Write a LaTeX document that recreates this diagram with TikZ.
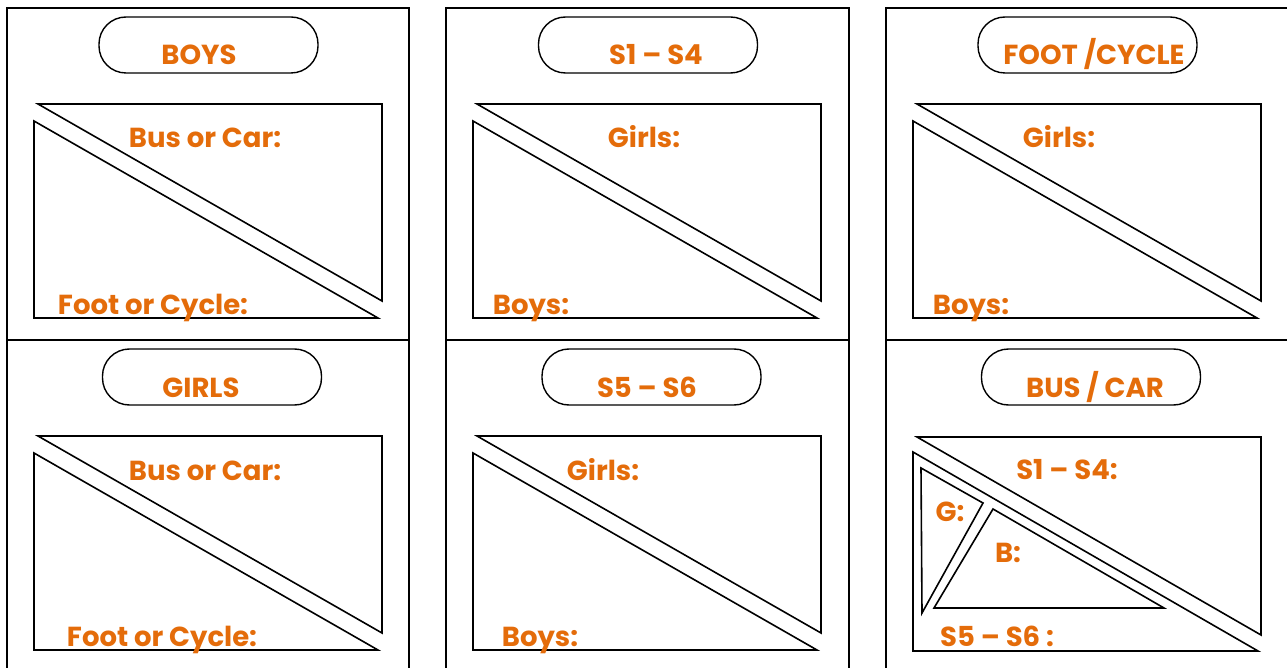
\documentclass[tikz,border=0pt]{standalone}
\usepackage{fontspec}
\setmainfont{Poppins}
\usepackage{tikz}
\usetikzlibrary{positioning}

\definecolor{tally}{HTML}{E46C0A}

\tikzset{
    panel/.style={line width=1.4pt},
    wedge/.style={line width=1.6pt, line join=miter},
    ovalbox/.style={draw, line width=1.4pt, rounded corners=27pt, minimum width=219pt, minimum height=56pt, inner sep=0pt},
    lbl/.style={text=tally, font=\fontsize{27.5}{30}\selectfont\bfseries, anchor=base, inner sep=0pt},
}

\begin{document}
\begin{tikzpicture}[x=1pt, y=-1pt]
    \useasboundingbox (0,0) rectangle (1287,668);
    \fill[white] (0,0) rectangle (1287,668);

    % outer panels
    \draw[panel] (7,668) |- (409,8) -- (409,668);
    \draw[panel] (446,668) |- (849,8) -- (849,668);
    \draw[panel] (886,668) |- (1287,8);
    \foreach \a/\b in {7/409, 446/849, 886/1287}
        \draw[panel] (\a,340) -- (\b,340);

    % the five plain cells
    \foreach \n/\ox/\oy/\ovx/\head/\hx/\ta/\tx/\ba/\bx in {
        boys/0/0/208.5/BOYS/199/Bus or Car:/205/Foot or Cycle:/153,
        girls/0/332/212/GIRLS/201/Bus or Car:/205/Foot or Cycle:/162,
        lower/439/0/648/S1 -- S4/656/Girls:/644/Boys:/531,
        upper/439/332/651.5/S5 -- S6/647/Girls:/603/Boys:/540,
        foot/879/0/1087.5/{FOOT /CYCLE}/1094/Girls:/1059/Boys:/971}
    {
        \node[ovalbox] (\n-oval) at (\ovx,\oy+45) {};
        \node[lbl] (\n-head) at (\hx,\oy+65) {\head};
        \draw[wedge] (\ox+38,\oy+104) -- (\ox+382,\oy+104) -- (\ox+382,\oy+301) -- cycle;
        \draw[wedge] (\ox+34,\oy+121) -- (\ox+34,\oy+318) -- (\ox+378,\oy+318) -- cycle;
        \node[lbl] (\n-top) at (\tx,\oy+148) {\ta};
        \node[lbl] (\n-bot) at (\bx,\oy+314) {\ba};
    }

    % bus / car cell
    \node[ovalbox] (bus-oval) at (1091,377) {};
    \node[lbl] (bus-head) at (1095,397) {BUS / CAR};
    \draw[wedge] (917,437) -- (1261,437) -- (1261,635) -- cycle;
    \draw[wedge] (913,452) -- (913,651) -- (1258,651) -- cycle;
    \draw[wedge] (921,468) -- (983,503) -- (922,613) -- cycle;
    \draw[wedge] (993,509) -- (1164,608) -- (934,608) -- cycle;
    \node[lbl] (bus-top) at (1067,479) {S1 -- S4:};
    \node[lbl] (bus-g) at (950,521) {G:};
    \node[lbl] (bus-b) at (1008,562) {B:};
    \node[lbl] (bus-bot) at (997,646) {S5 -- S6 :};
\end{tikzpicture}
\end{document}
